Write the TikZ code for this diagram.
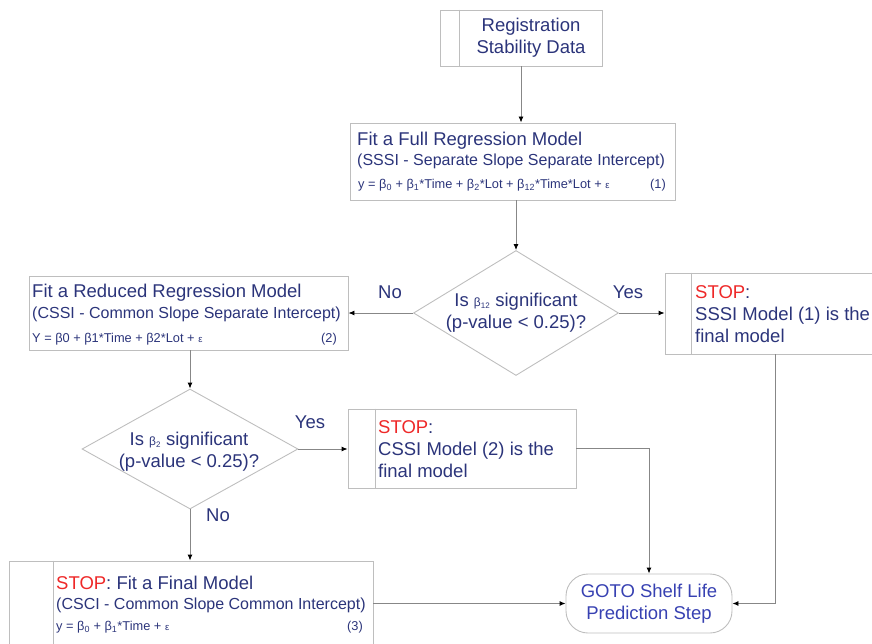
\documentclass[tikz,border=0pt]{standalone}
\usepackage{fontspec}
\setmainfont{Liberation Sans}
\usetikzlibrary{shapes.geometric,arrows.meta}
\definecolor{navy}{RGB}{43,52,122}
\definecolor{gotoblue}{RGB}{55,65,178}
\definecolor{stopred}{RGB}{238,40,40}
\definecolor{linegray}{RGB}{135,135,135}
\definecolor{boxgray}{RGB}{190,190,190}
\newcommand{\stp}{\textcolor{stopred}{STOP}}
\newcommand{\bsub}[1]{β\textsubscript{#1}}
\newcommand{\eps}{{\fontsize{9.5}{9.5}\selectfont ε}}

\begin{document}
\begin{tikzpicture}[x=1pt,y=-1pt,>={Latex[length=6pt,width=5pt,color=black]},
  box/.style={draw=boxgray,line width=0.9pt,rectangle,inner sep=0pt},
  decide/.style={draw=boxgray,line width=0.9pt,diamond,inner sep=0pt},
  term/.style={draw=boxgray,line width=0.9pt,rectangle,rounded corners=22pt,inner sep=0pt},
  head/.style={text=navy,font=\fontsize{18.5}{22}\selectfont,inner sep=0pt,align=left},
  sub/.style={text=navy,font=\fontsize{16}{19}\selectfont,inner sep=0pt},
  eq/.style={text=navy,font=\fontsize{12.8}{14}\selectfont,inner sep=0pt},
  arr/.style={->,draw=linegray,line width=0.9pt}]
			\useasboundingbox (0,0) rectangle (872,644);
			\clip (0,0) rectangle (872,644);
			% boxes
			\node[box,minimum width=162,minimum height=56] (reg) at (521,38) {};
			\draw[boxgray,line width=0.9pt] ([xshift=20]reg.north west)--([xshift=20]reg.south west);
			\node[head,align=center] (regtxt) at (531,38) {Registration\\Stability Data};
			\node[box,minimum width=325,minimum height=77] (full) at (512.5,161.5) {};
			\node[head,anchor=west] (fulla) at (357,141) {Fit a Full Regression Model};
			\node[sub,anchor=west] (fullb) at (357,161) {(SSSI - Separate Slope Separate Intercept)};
			\node[eq,anchor=west] (fullc) at (358,185) {y = \bsub{0} + \bsub{1}*Time + \bsub{2}*Lot + \bsub{12}*Time*Lot + \eps};
			\node[eq,anchor=east] (fulln) at (666,185) {(1)};
			\node[decide,minimum width=205,minimum height=125] (d1) at (516,313) {};
			\node[head,align=center] (d1txt) at (516,313) {Is {\fontsize{12}{12}\selectfont\bsub{12}} significant\\(p-value < 0.25)?};
			\node[box,minimum width=209,minimum height=81] (stop1) at (769.5,313.5) {};
			\draw[boxgray,line width=0.9pt] ([xshift=27]stop1.north west)--([xshift=27]stop1.south west);
			\node[head,anchor=west] (stop1txt) at (695,314) {\stp:\\SSSI Model (1) is the\\final model};
			\node[box,minimum width=319,minimum height=74] (red) at (188.5,313) {};
			\node[head,anchor=west] (reda) at (32,293) {Fit a Reduced Regression Model};
			\node[sub,anchor=west] (redb) at (32,314) {(CSSI - Common Slope Separate Intercept)};
			\node[eq,anchor=west] (redc) at (32,339) {Y = β0 + β1*Time + β2*Lot + \eps};
			\node[eq,anchor=east] (redn) at (337,339) {(2)};
			\node[decide,minimum width=216,minimum height=120] (d2) at (190,449) {};
			\node[head,align=center] (d2txt) at (189,452) {Is {\fontsize{12}{12}\selectfont\bsub{2}} significant\\(p-value < 0.25)?};
			\node[box,minimum width=228,minimum height=79] (stop2) at (462,448.5) {};
			\draw[boxgray,line width=0.9pt] ([xshift=28]stop2.north west)--([xshift=28]stop2.south west);
			\node[head,anchor=west] (stop2txt) at (378,449) {\stp:\\CSSI Model (2) is the\\final model};
			\node[box,minimum width=364,minimum height=91] (fin) at (191,606.5) {};
			\draw[boxgray,line width=0.9pt] ([xshift=45]fin.north west)--([xshift=45]fin.south west);
			\node[head,anchor=west] (fina) at (56,583) {\stp: Fit a Final Model};
			\node[sub,anchor=west] (finb) at (56,605) {(CSCI - Common Slope Common Intercept)};
			\node[eq,anchor=west] (finc) at (56,627) {y = \bsub{0} + \bsub{1}*Time + \eps};
			\node[eq,anchor=east] (finn) at (363,627) {(3)};
			\node[term,minimum width=166,minimum height=59] (goto) at (649,603.5) {};
			\node[head,align=center,text=gotoblue] (gototxt) at (649,604) {GOTO Shelf Life\\Prediction Step};
			% labels
			\node[head] (yes1) at (628,292) {Yes};
			\node[head] (no1) at (390,292) {No};
			\node[head] (yes2) at (310,422) {Yes};
			\node[head] (no2) at (218,515) {No};
			% connectors
			\draw[arr] (reg.south)--(reg.south |- full.north);
			\draw[arr] (d1.north |- full.south)--(d1.north);
			\draw[arr] (d1.east)--(stop1.west |- d1.east);
			\draw[arr] (d1.west)--(red.east |- d1.west);
			\draw[arr] (d2.north |- red.south)--(d2.north);
			\draw[arr] (d2.east)--(stop2.west |- d2.east);
			\draw[arr] (d2.south)--(d2.south |- fin.north);
			\draw[arr] (fin.east |- goto.west)--(goto.west);
			\draw[arr] (stop2.east)-|(goto.north);
			\draw[arr] ([xshift=5.5]stop1.south)|-(goto.east);
		\end{tikzpicture}
\end{document}
